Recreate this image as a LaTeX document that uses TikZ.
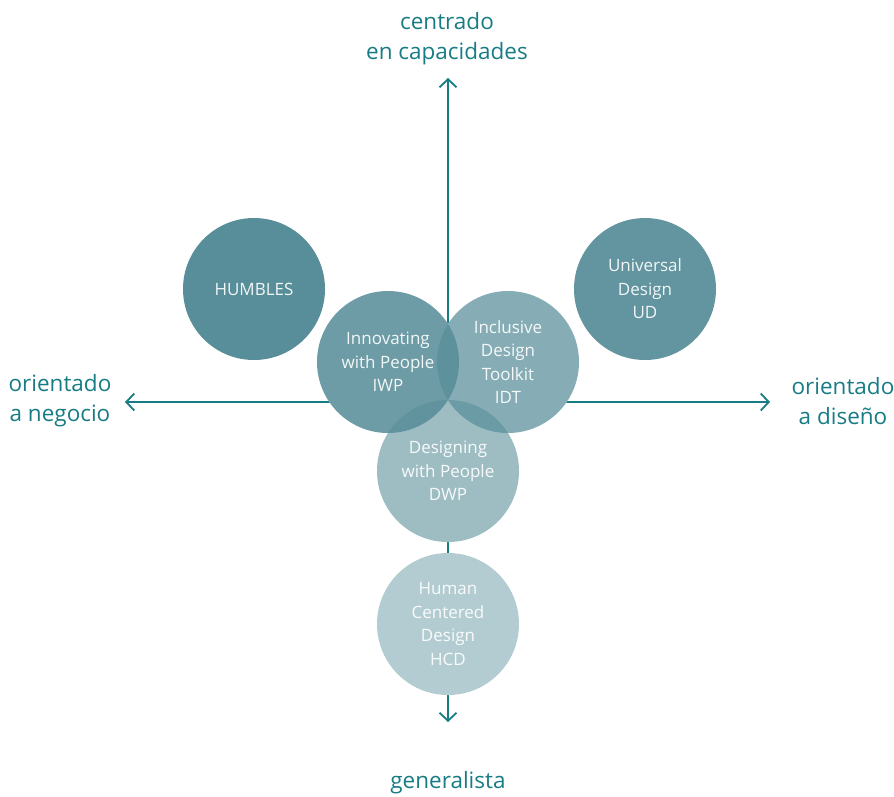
\documentclass[tikz,border=0pt]{standalone}
\usepackage{fontspec}
\setmainfont{Open Sans}
\usetikzlibrary{arrows.meta, backgrounds}
\definecolor{axisteal}{RGB}{24,124,132}
\definecolor{discteal}{RGB}{88,142,153}
\tikzset{
  >={Straight Barb[length=8pt,width=17pt]},
  axis/.style={draw=axisteal, line width=1.8pt, <->},
  axislabel/.style={text=axisteal, align=center, inner sep=0pt,
    font=\fontsize{22.5}{30}\selectfont},
  disc/.style={circle, minimum size=142pt, inner sep=0pt, fill=discteal,
    text=white, text opacity=.92, align=center,
    font=\fontsize{17}{23.5}\selectfont},
}
\begin{document}
\begin{tikzpicture}[x=1pt,y=-1pt]
  \useasboundingbox (0,0) rectangle (894,796);

  % the six approaches
  \node[disc, fill opacity=1]   (humbles) at (254,289) {HUMBLES};
  \node[disc, fill opacity=.93] (ud)      at (645,289) {Universal\\Design\\UD};
  \node[disc, fill opacity=.87] (iwp)     at (388,362) {Innovating\\with People\\IWP};
  \node[disc, fill opacity=.72] (idt)     at (508,362) {Inclusive\\Design\\Toolkit\\IDT};
  \node[disc, fill opacity=.58] (dwp)     at (448,471) {Designing\\with People\\DWP};
  \node[disc, fill opacity=.45] (hcd)     at (448,624) {Human\\Centered\\Design\\HCD};

  % axis labels
  \node[axislabel] (capac)   at (447,39)  {centrado\\en capacidades};
  \node[axislabel] (general) at (448,783) {generalista};
  \node[axislabel] (negocio) at (60,401)  {orientado\\a negocio};
  \node[axislabel] (diseno)  at (843,401) {orientado\\a diseño};

  \coordinate (north) at (448,78);
  \coordinate (south) at (448,722);
  \coordinate (west)  at (125,402);
  \coordinate (east)  at (770,402);

  \begin{scope}[on background layer]
    \draw[axis] (west) -- (east);
    \draw[axis] (north) -- (south);
    \foreach \d in {humbles,ud,iwp,idt,dwp,hcd}
      \fill[white] (\d) circle (71pt);
  \end{scope}
\end{tikzpicture}
\end{document}
